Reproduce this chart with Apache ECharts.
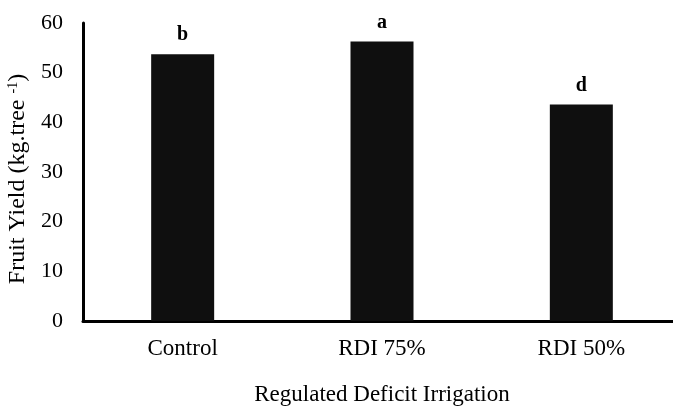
<!DOCTYPE html>
<html>
<head>
<meta charset="utf-8">
<script src="https://cdn.jsdelivr.net/npm/echarts@6/dist/echarts.min.js"></script>
<style>html,body{margin:0;padding:0;background:#fff;}#c{width:673px;height:406px;}</style>
</head>
<body>
<div id="c"></div>
<script>
var categories = ['Control', 'RDI 75%', 'RDI 50%'];
var yieldValues = [53.7, 56.3, 43.6];
var letters = ['b', 'a', 'd'];
var yTicks = [0, 10, 20, 30, 40, 50, 60];

var chart = echarts.init(document.getElementById('c'));
var font = 'Liberation Serif';
chart.setOption({
  animation: false,
  backgroundColor: '#fff',
  grid: { left: 83, top: 23, width: 598, bottom: 85, containLabel: false, outerBoundsMode: 'none' },
  xAxis: {
    type: 'category',
    data: categories,
    name: 'Regulated Deficit Irrigation',
    nameLocation: 'middle',
    nameGap: 62,
    nameTextStyle: { fontFamily: font, fontSize: 23, color: '#000' },
    axisLine: { lineStyle: { color: '#000', width: 3 } },
    axisTick: { show: false },
    axisLabel: { fontFamily: font, fontSize: 23, color: '#000', margin: 16 }
  },
  yAxis: {
    type: 'value',
    min: yTicks[0],
    max: yTicks[yTicks.length - 1],
    interval: 10,
    name: 'Fruit Yield (kg.tree {sup|-1})',
    nameLocation: 'middle',
    nameGap: 48,
    nameRotate: 90,
    nameTextStyle: {
      fontFamily: font, fontSize: 24, color: '#000',
      padding: [0, 14, 0, 0],
      rich: { sup: { fontFamily: font, fontSize: 14, color: '#000', verticalAlign: 'top', padding: [0, 0, 10, 0] } }
    },
    axisLine: { show: true, lineStyle: { color: '#000', width: 3 } },
    axisTick: { show: false },
    splitLine: { show: false },
    axisLabel: { fontFamily: font, fontSize: 22, color: '#000', margin: 20 }
  },
  series: [{
    type: 'bar',
    data: yieldValues,
    barWidth: 63,
    itemStyle: { color: '#0f0f0f' },
    label: {
      show: true,
      position: 'top',
      distance: 9,
      fontFamily: font,
      fontWeight: 'bold',
      fontSize: 20,
      color: '#000',
      formatter: function (p) { return letters[p.dataIndex]; }
    }
  }]
});
</script>
</body>
</html>
